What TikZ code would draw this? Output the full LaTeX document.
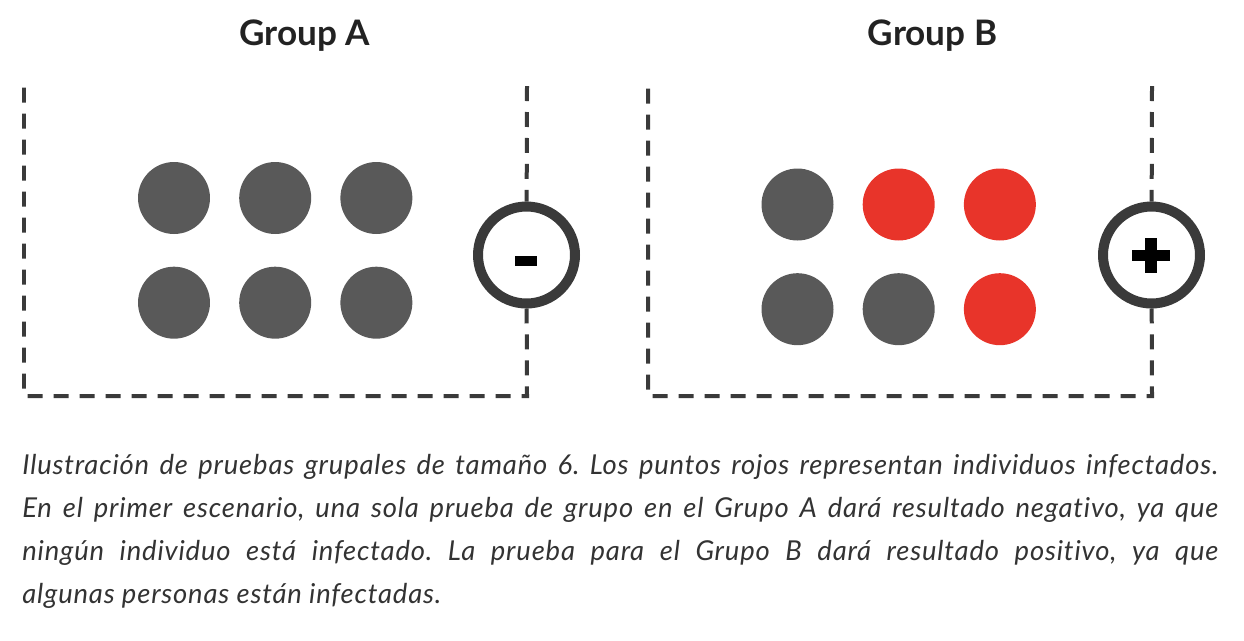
\documentclass[tikz,border=0pt]{standalone}
\usepackage{fontspec}
\setmainfont{Lato}
\newfontfamily\captfont[LetterSpace=3, Ligatures=NoCommon]{Lato}
\usepackage{xcolor}
\usepackage{tikz}
\usetikzlibrary{positioning}
\definecolor{dotgray}{HTML}{595959}
\definecolor{infred}{HTML}{E8342A}
\definecolor{ringc}{HTML}{3A3A3A}
\definecolor{inkk}{HTML}{222222}
\definecolor{capc}{HTML}{333333}
\tikzset{
  dotg/.style={circle, fill=dotgray, minimum size=1.44cm, inner sep=0pt},
  dotr/.style={dotg, fill=infred},
  testc/.style={circle, draw=ringc, line width=0.2cm, fill=white, minimum size=1.94cm, inner sep=0pt},
  signbar/.style={rectangle, fill=black, inner sep=0pt},
  grpline/.style={draw=ringc, line width=0.08cm, dash pattern=on 0.3cm off 0.22cm},
  ttl/.style={font=\fontsize{20}{22}\selectfont\bfseries, color=inkk, anchor=base},
  capt/.style={font=\captfont\fontsize{15.6}{24.4}\selectfont\itshape\frenchspacing, color=capc,
               text width=23.92cm, align=justify, inner sep=0pt, anchor=north west},
}
\begin{document}
\begin{tikzpicture}[x=0.02cm, y=-0.02cm, node distance=0.64cm and 0.57cm]
  \useasboundingbox (0,0) rectangle (1244,640);
  % titles
  \node[ttl] (ttlA) at (304.5,45) {Group A};
  \node[ttl] (ttlB) at (932.5,45) {Group B};
  % group A: nobody infected
  \node[dotg] (a1) at (174,198) {};
  \node[dotg, right=of a1] (a2) {};
  \node[dotg, right=of a2] (a3) {};
  \node[dotg, below=of a1] (a4) {};
  \node[dotg, right=of a4] (a5) {};
  \node[dotg, right=of a5] (a6) {};
  \node[testc] (na) at (526.5,255) {};
  \node[signbar, minimum width=0.44cm, minimum height=0.2cm] (minus) at (526,261) {};
  \coordinate (aTR) at (527,86);
  \coordinate (aBR) at (527,396);
  \coordinate (aBL) at (24,396);
  \coordinate (aTL) at (24,86);
  \draw[grpline] (aTR) -- (na);
  \draw[grpline] (na) -- (aBR) -- (aBL) -- (aTL);
  % group B: some infected
  \node[dotg] (b1) at (797.5,204.5) {};
  \node[dotr, right=of b1] (b2) {};
  \node[dotr, right=of b2] (b3) {};
  \node[dotg, below=of b1] (b4) {};
  \node[dotg, right=of b4] (b5) {};
  \node[dotr, right=of b5] (b6) {};
  \node[testc] (nb) at (1151.5,255) {};
  \node[signbar, minimum width=0.76cm, minimum height=0.23cm] (plush) at (1151,255.5) {};
  \node[signbar, minimum width=0.23cm, minimum height=0.7cm] (plusv) at (1151,255.5) {};
  \coordinate (bTR) at (1152,86);
  \coordinate (bBR) at (1152,396);
  \coordinate (bBL) at (648,396);
  \coordinate (bTL) at (648,86);
  \draw[grpline] (bTR) -- (nb);
  \draw[grpline] (nb) -- (bBR) -- (bBL) -- (bTL);
  % caption
  \node[capt] (cap) at (22,454) {Ilustración de pruebas grupales de tamaño 6. Los puntos rojos representan individuos infectados.\linebreak
    En el primer escenario, una sola prueba de grupo en el Grupo A dará resultado negativo, ya que\linebreak
    ningún individuo está infectado. La prueba para el Grupo B dará resultado positivo, ya que\linebreak
    algunas personas están infectadas.};
\end{tikzpicture}
\end{document}
